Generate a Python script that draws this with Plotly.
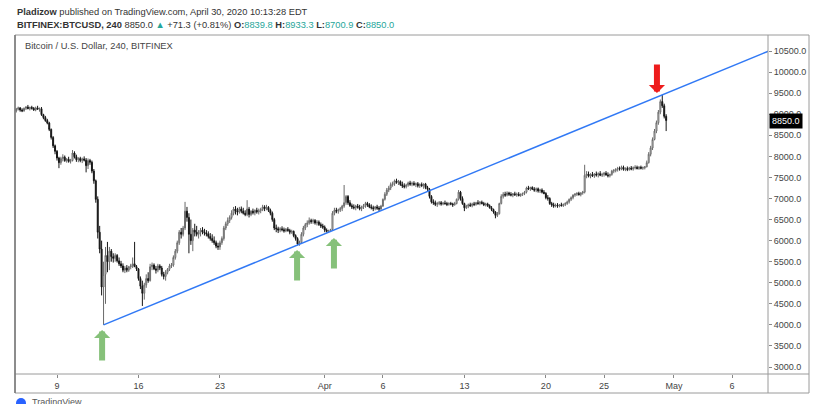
import pandas as pd
import plotly.graph_objects as go

# ---------------- data: 4-hour (240) candles ----------------
start_time = "2020-03-05 12:00"
bar_hours = 4

opens = [
    9080, 9120, 9150,                                  # Mar 5 (12h-20h)
    9100, 9080, 9140, 9170, 9130, 9160,                # Mar 6
    9140, 9100, 9150, 9120, 9130, 8990,                # Mar 7
    8920, 8850, 8790, 8640, 8450, 8250,                # Mar 8
    8120, 7960, 7850, 7950, 7980, 7900,                # Mar 9
    7930, 7880, 7900, 8080, 7990, 7920,                # Mar 10
    7950, 7900, 7940, 7910, 7780, 7900,                # Mar 11
    7860, 7650, 7420, 6980, 6200, 5800,                # Mar 12
    4900, 5200, 5650, 5500, 5750, 5620,                # Mar 13
    5580, 5650, 5520, 5450, 5400, 5300,                # Mar 14
    5350, 5300, 5380, 5400, 5450, 5380,                # Mar 15
    5330, 5100, 4920, 4750, 4950, 5100,                # Mar 16
    5050, 5380, 5420, 5330, 5300, 5400,                # Mar 17
    5350, 5200, 5150, 5250, 5320, 5400,                # Mar 18
    5420, 5600, 5750, 5950, 6200, 6150,                # Mar 19
    6300, 6700, 6550, 6150, 6000, 6250,                # Mar 20
    6200, 6150, 6200, 6250, 6200, 6180,                # Mar 21
    6160, 6100, 6050, 6000, 5950, 5870,                # Mar 22
    5850, 5950, 6050, 6300, 6400, 6480,                # Mar 23
    6550, 6650, 6750, 6700, 6680, 6750,                # Mar 24
    6700, 6650, 6620, 6750, 6620, 6700,                # Mar 25
    6660, 6720, 6680, 6710, 6740, 6800,                # Mar 26
    6760, 6790, 6720, 6650, 6500, 6300,                # Mar 27
    6280, 6250, 6280, 6260, 6230, 6270,                # Mar 28
    6240, 6200, 6220, 6120, 6050, 5920,                # Mar 29
    5960, 6150, 6300, 6380, 6420, 6480,                # Mar 30
    6450, 6480, 6420, 6440, 6380, 6350,                # Mar 31
    6320, 6250, 6220, 6230, 6260, 6650,                # Apr 1
    6720, 6700, 6730, 6760, 6820, 6900,                # Apr 2
    7050, 6900, 6830, 6800, 6780, 6820,                # Apr 3
    6790, 6760, 6800, 6830, 6880, 6850,                # Apr 4
    6800, 6780, 6760, 6800, 6770, 6750,                # Apr 5
    6820, 6980, 7100, 7200, 7250, 7330,                # Apr 6
    7350, 7420, 7380, 7400, 7330, 7300,                # Apr 7
    7280, 7320, 7370, 7340, 7360, 7330,                # Apr 8
    7350, 7300, 7330, 7310, 7340, 7260,                # Apr 9
    7220, 7050, 6920, 6900, 6860, 6880,                # Apr 10
    6900, 6870, 6890, 6880, 6860, 6880,                # Apr 11
    6870, 6850, 6880, 6980, 7150, 7000,                # Apr 12
    6880, 6780, 6820, 6850, 6830, 6870,                # Apr 13
    6860, 6900, 6880, 6910, 6880, 6850,                # Apr 14
    6870, 6830, 6780, 6740, 6680, 6600,                # Apr 15
    6640, 6880, 7050, 7100, 7080, 7130,                # Apr 16
    7100, 7080, 7110, 7090, 7100, 7070,                # Apr 17
    7100, 7120, 7150, 7250, 7230, 7260,                # Apr 18
    7220, 7200, 7230, 7180, 7200, 7150,                # Apr 19
    7120, 7020, 7000, 6880, 6850, 6820,                # Apr 20
    6840, 6820, 6850, 6830, 6860, 6880,                # Apr 21
    6920, 6980, 7020, 7080, 7100, 7120,                # Apr 22
    7090, 7130, 7150, 7550, 7580, 7530,                # Apr 23
    7570, 7540, 7580, 7560, 7590, 7550,                # Apr 24
    7570, 7600, 7560, 7540, 7570, 7650,                # Apr 25
    7660, 7690, 7710, 7700, 7740, 7690,                # Apr 26
    7710, 7690, 7720, 7700, 7730, 7740,                # Apr 27
    7710, 7740, 7720, 7730, 7750, 7850,                # Apr 28
    8050, 8200, 8400, 8600, 8800, 9050,                # Apr 29
    9300, 9200, 8950,                                  # Apr 30 (0h-8h)
]
highs = [
    9150, 9180, 9170,
    9140, 9160, 9190, 9220, 9180, 9200,
    9170, 9180, 9200, 9160, 9170, 9010,
    8960, 8890, 8820, 8660, 8480, 8280,
    8150, 7990, 7990, 8050, 8020, 7960,
    7990, 7940, 8150, 8120, 8040, 7980,
    7990, 7970, 8000, 7960, 7950, 7940,
    7900, 7700, 7450, 7050, 6350, 6000,
    5500, 5850, 5970, 5850, 5800, 5700,
    5700, 5680, 5600, 5520, 5460, 5400,
    5420, 5400, 5450, 5600, 5970, 5420,
    5350, 5150, 5050, 5000, 5200, 5250,
    5450, 5480, 5460, 5400, 5450, 5440,
    5400, 5260, 5300, 5350, 5450, 5470,
    5650, 5800, 6000, 6250, 6300, 6350,
    6920, 6800, 6650, 6500, 6300, 6400,
    6350, 6250, 6300, 6320, 6280, 6250,
    6220, 6180, 6150, 6100, 6000, 5950,
    6000, 6100, 6350, 6450, 6550, 6600,
    6720, 6800, 6820, 6780, 6800, 6810,
    6780, 6720, 6960, 6800, 6720, 6760,
    6740, 6780, 6760, 6780, 6850, 6840,
    6850, 6820, 6760, 6690, 6540, 6380,
    6330, 6320, 6340, 6310, 6300, 6320,
    6280, 6260, 6240, 6150, 6080, 6000,
    6200, 6350, 6420, 6480, 6550, 6520,
    6520, 6510, 6490, 6480, 6430, 6400,
    6360, 6290, 6260, 6280, 6700, 6780,
    6780, 6760, 6800, 6850, 7320, 7080,
    7080, 6960, 6880, 6860, 6850, 6870,
    6850, 6830, 6870, 6920, 6920, 6890,
    6860, 6830, 6820, 6850, 6820, 6850,
    7000, 7150, 7250, 7300, 7380, 7400,
    7450, 7470, 7440, 7430, 7400, 7360,
    7350, 7400, 7420, 7400, 7410, 7380,
    7390, 7360, 7380, 7360, 7370, 7300,
    7250, 7080, 6980, 6950, 6920, 6940,
    6940, 6920, 6950, 6920, 6910, 6920,
    6900, 6920, 7000, 7200, 7180, 7050,
    6900, 6850, 6880, 6900, 6900, 6920,
    6920, 6960, 6940, 6950, 6920, 6900,
    6900, 6860, 6820, 6760, 6700, 6680,
    6900, 7100, 7150, 7160, 7170, 7160,
    7150, 7130, 7160, 7140, 7150, 7120,
    7140, 7180, 7280, 7300, 7280, 7290,
    7270, 7260, 7260, 7230, 7240, 7200,
    7150, 7080, 7030, 6920, 6900, 6880,
    6890, 6870, 6900, 6880, 6910, 6950,
    7000, 7050, 7100, 7130, 7150, 7160,
    7150, 7180, 7800, 7650, 7640, 7600,
    7630, 7600, 7640, 7620, 7650, 7610,
    7630, 7650, 7620, 7590, 7680, 7700,
    7720, 7750, 7760, 7780, 7780, 7740,
    7760, 7750, 7770, 7760, 7790, 7780,
    7770, 7780, 7760, 7770, 7900, 8100,
    8250, 8450, 8650, 8850, 9100, 9350,
    9460, 9250, 9000,
]
lows = [
    9040, 9090, 9060,
    9050, 9060, 9100, 9120, 9090, 9110,
    9080, 9070, 9110, 9060, 8960, 8880,
    8820, 8760, 8600, 8400, 8200, 8050,
    7900, 7720, 7800, 7880, 7870, 7850,
    7850, 7830, 7880, 7950, 7870, 7860,
    7860, 7840, 7880, 7620, 7700, 7800,
    7600, 7350, 6900, 6050, 5700, 4700,
    4000, 4500, 5250, 5300, 5500, 5480,
    5500, 5480, 5400, 5350, 5250, 5230,
    5250, 5260, 5320, 5350, 5400, 5280,
    5050, 4850, 4450, 4600, 4880, 5000,
    5030, 5300, 5300, 5220, 5250, 5300,
    5150, 5080, 5050, 5200, 5280, 5350,
    5380, 5550, 5700, 5900, 6050, 6100,
    6250, 6450, 5700, 5900, 5750, 6100,
    6100, 6050, 6100, 6150, 6120, 6100,
    6050, 6000, 5950, 5900, 5820, 5780,
    5780, 5900, 6000, 6250, 6350, 6420,
    6500, 6600, 6620, 6600, 6640, 6650,
    6620, 6580, 6580, 6550, 6580, 6620,
    6600, 6640, 6620, 6650, 6700, 6700,
    6720, 6680, 6600, 6450, 6250, 6200,
    6180, 6200, 6220, 6190, 6200, 6210,
    6150, 6160, 6080, 6000, 5890, 5880,
    5940, 6100, 6250, 6320, 6380, 6400,
    6400, 6380, 6360, 6350, 6300, 6280,
    6200, 6190, 6200, 6210, 6240, 6600,
    6650, 6640, 6680, 6700, 6780, 6850,
    6850, 6800, 6750, 6740, 6720, 6760,
    6720, 6700, 6750, 6780, 6800, 6770,
    6740, 6700, 6720, 6730, 6700, 6730,
    6800, 6950, 7060, 7150, 7200, 7280,
    7300, 7350, 7320, 7300, 7250, 7240,
    7240, 7280, 7300, 7290, 7300, 7270,
    7260, 7250, 7270, 7230, 7220, 7180,
    7000, 6880, 6850, 6820, 6800, 6840,
    6830, 6840, 6850, 6820, 6830, 6840,
    6800, 6830, 6860, 6950, 6950, 6850,
    6700, 6750, 6770, 6800, 6790, 6820,
    6830, 6850, 6840, 6860, 6820, 6810,
    6800, 6760, 6700, 6640, 6530, 6560,
    6620, 6860, 7000, 7040, 7050, 7060,
    7050, 7030, 7060, 7040, 7050, 7040,
    7060, 7080, 7120, 7200, 7180, 7200,
    7160, 7150, 7140, 7130, 7120, 7100,
    6980, 6950, 6850, 6800, 6780, 6790,
    6780, 6790, 6810, 6800, 6820, 6850,
    6880, 6940, 6980, 7040, 7060, 7070,
    7050, 7090, 7120, 7480, 7500, 7480,
    7510, 7490, 7520, 7500, 7530, 7510,
    7520, 7540, 7500, 7500, 7540, 7600,
    7620, 7640, 7660, 7670, 7660, 7650,
    7650, 7660, 7670, 7660, 7690, 7690,
    7680, 7690, 7680, 7690, 7740, 7830,
    8000, 8150, 8380, 8550, 8750, 9000,
    9150, 8900, 8600,
]
closes = [
    9120, 9150, 9100,
    9080, 9140, 9170, 9130, 9160, 9140,
    9100, 9150, 9120, 9130, 8990, 8920,
    8850, 8790, 8640, 8450, 8250, 8120,
    7960, 7850, 7950, 7980, 7900, 7930,
    7880, 7900, 8080, 7990, 7920, 7950,
    7900, 7940, 7910, 7780, 7900, 7860,
    7650, 7420, 6980, 6200, 5800, 4900,
    5200, 5650, 5500, 5750, 5620, 5580,
    5650, 5520, 5450, 5400, 5300, 5350,
    5300, 5380, 5400, 5450, 5380, 5330,
    5100, 4920, 4750, 4950, 5100, 5050,
    5380, 5420, 5330, 5300, 5400, 5350,
    5200, 5150, 5250, 5320, 5400, 5420,
    5600, 5750, 5950, 6200, 6150, 6300,
    6700, 6550, 6150, 6000, 6250, 6200,
    6150, 6200, 6250, 6200, 6180, 6160,
    6100, 6050, 6000, 5950, 5870, 5850,
    5950, 6050, 6300, 6400, 6480, 6550,
    6650, 6750, 6700, 6680, 6750, 6700,
    6650, 6620, 6750, 6620, 6700, 6660,
    6720, 6680, 6710, 6740, 6800, 6760,
    6790, 6720, 6650, 6500, 6300, 6280,
    6250, 6280, 6260, 6230, 6270, 6240,
    6200, 6220, 6120, 6050, 5920, 5960,
    6150, 6300, 6380, 6420, 6480, 6450,
    6480, 6420, 6440, 6380, 6350, 6320,
    6250, 6220, 6230, 6260, 6650, 6720,
    6700, 6730, 6760, 6820, 6900, 7050,
    6900, 6830, 6800, 6780, 6820, 6790,
    6760, 6800, 6830, 6880, 6850, 6800,
    6780, 6760, 6800, 6770, 6750, 6820,
    6980, 7100, 7200, 7250, 7330, 7350,
    7420, 7380, 7400, 7330, 7300, 7280,
    7320, 7370, 7340, 7360, 7330, 7350,
    7300, 7330, 7310, 7340, 7260, 7220,
    7050, 6920, 6900, 6860, 6880, 6900,
    6870, 6890, 6880, 6860, 6880, 6870,
    6850, 6880, 6980, 7150, 7000, 6880,
    6780, 6820, 6850, 6830, 6870, 6860,
    6900, 6880, 6910, 6880, 6850, 6870,
    6830, 6780, 6740, 6680, 6600, 6640,
    6880, 7050, 7100, 7080, 7130, 7100,
    7080, 7110, 7090, 7100, 7070, 7100,
    7120, 7150, 7250, 7230, 7260, 7220,
    7200, 7230, 7180, 7200, 7150, 7120,
    7020, 7000, 6880, 6850, 6820, 6840,
    6820, 6850, 6830, 6860, 6880, 6920,
    6980, 7020, 7080, 7100, 7120, 7090,
    7130, 7150, 7550, 7580, 7530, 7570,
    7540, 7580, 7560, 7590, 7550, 7570,
    7600, 7560, 7540, 7570, 7650, 7660,
    7690, 7710, 7700, 7740, 7690, 7710,
    7690, 7720, 7700, 7730, 7740, 7710,
    7740, 7720, 7730, 7750, 7850, 8050,
    8200, 8400, 8600, 8800, 9050, 9300,
    9200, 8950, 8850,
]

# trend line drawn on the chart (anchored at the March low, running past the right edge)
trend_dates = ["2020-03-13 00:00", "2020-05-10 00:00"]
trend_prices = [4000, 10597]

# arrows drawn on the chart: (time, price at the arrow tip)
green_arrow_dates = ["2020-03-12 21:00", "2020-03-29 15:00", "2020-04-01 19:00"]
green_arrow_prices = [3880, 5778, 6062]
red_arrow_dates = ["2020-04-29 13:00"]
red_arrow_prices = [9503]

last_price = 8850.0

x_tick_dates = ["2020-03-09", "2020-03-16", "2020-03-23", "2020-04-01", "2020-04-06",
                "2020-04-13", "2020-04-20", "2020-04-25", "2020-05-01", "2020-05-06"]
x_tick_labels = ["9", "16", "23", "Apr", "6", "13", "20", "25", "May", "6"]
y_tick_values = [3000 + 500 * i for i in range(16)]
y_tick_labels = [f"{v:.1f}" for v in y_tick_values]

x_range = ["2020-03-05 09:24", "2020-05-09 02:00"]
y_range = [2835, 10880]

# ---------------- figure ----------------
times = pd.date_range(start_time, periods=len(closes), freq=f"{bar_hours}h")

W, H = 822, 404
L, R, T, B = 15, 768, 35, 374      # plot area in pixels
FR, FB = 809, 393                  # outer frame right / bottom
pw, ph = R - L, B - T


def px(x):
    return (x - L) / pw


def py(y):
    return (B - y) / ph


FONT = "Liberation Sans, Arial, sans-serif"
TEAL = "#26a69a"

fig = go.Figure()
fig.add_trace(go.Candlestick(
    x=times, open=opens, high=highs, low=lows, close=closes,
    increasing=dict(line=dict(color="#6a6a6a", width=1), fillcolor="#ffffff"),
    decreasing=dict(line=dict(color="#151515", width=1), fillcolor="#151515"),
    whiskerwidth=0, hoverinfo="skip", showlegend=False,
))
fig.add_trace(go.Scatter(
    x=trend_dates, y=trend_prices, mode="lines",
    line=dict(color="#3179f5", width=1.5), hoverinfo="skip", showlegend=False,
))

annotations = []
for d, p in zip(green_arrow_dates, green_arrow_prices):
    annotations.append(dict(x=d, y=p, xref="x", yref="y", text="", showarrow=True,
                            ax=0, ay=32, arrowhead=1, arrowsize=0.45, arrowwidth=6,
                            arrowcolor="#86c17a", standoff=0))
for d, p in zip(red_arrow_dates, red_arrow_prices):
    annotations.append(dict(x=d, y=p, xref="x", yref="y", text="", showarrow=True,
                            ax=0, ay=-30, arrowhead=1, arrowsize=0.45, arrowwidth=6,
                            arrowcolor="#ee1c1c", standoff=0))

# last price label on the price scale
annotations.append(dict(x=1.0, xref="paper", y=last_price, yref="y", xanchor="left",
                        yanchor="middle", xshift=1, text=f"{last_price:.1f}", showarrow=False,
                        bgcolor="#000000", borderpad=2,
                        font=dict(family=FONT, size=9, color="#ffffff")))

# header texts
annotations.append(dict(x=px(15), y=py(12), xref="paper", yref="paper", xanchor="left",
                        yanchor="middle", showarrow=False,
                        text="<b>Pladizow</b> published on TradingView.com, April 30, 2020 10:13:28 EDT",
                        font=dict(family=FONT, size=9.3, color="#333333")))
annotations.append(dict(x=px(15), y=py(25), xref="paper", yref="paper", xanchor="left",
                        yanchor="middle", showarrow=False,
                        text=("<b>BITFINEX:BTCUSD, 240</b> 8850.0 "
                              f"<span style='color:{TEAL}'>▲</span> +71.3 (+0.81%) "
                              f"<b>O:</b><span style='color:{TEAL}'>8839.8</span> "
                              f"<b>H:</b><span style='color:{TEAL}'>8933.3</span> "
                              f"<b>L:</b><span style='color:{TEAL}'>8700.9</span> "
                              f"<b>C:</b><span style='color:{TEAL}'>8850.0</span>"),
                        font=dict(family=FONT, size=9.3, color="#333333")))
annotations.append(dict(x=px(23), y=py(46), xref="paper", yref="paper", xanchor="left",
                        yanchor="middle", showarrow=False,
                        text="Bitcoin / U.S. Dollar, 240, BITFINEX",
                        font=dict(family=FONT, size=9.3, color="#444444")))
annotations.append(dict(x=px(30), y=py(402), xref="paper", yref="paper", xanchor="left",
                        yanchor="middle", showarrow=False, text="TradingView",
                        font=dict(family=FONT, size=9, color="#555555")))

frame_col = "#9a9a9a"
shapes = [
    dict(type="rect", xref="paper", yref="paper", x0=0, y0=py(FB), x1=px(FR), y1=1,
         line=dict(color=frame_col, width=1)),
    dict(type="line", xref="paper", yref="paper", x0=1, y0=py(FB), x1=1, y1=1,
         line=dict(color=frame_col, width=1)),
    dict(type="line", xref="paper", yref="paper", x0=0, y0=0, x1=px(FR), y1=0,
         line=dict(color=frame_col, width=1)),
    dict(type="line", xref="paper", yref="paper", x0=0, y0=py(FB), x1=0, y1=1,
         line=dict(color="#777777", width=1.5)),
    dict(type="circle", xref="paper", yref="paper", x0=px(16), x1=px(26), y0=py(408), y1=py(398),
         line=dict(width=0), fillcolor="#2962ff"),
]

fig.update_layout(
    width=W, height=H,
    margin=dict(l=L, r=W - R, t=T, b=H - B, pad=0),
    paper_bgcolor="white", plot_bgcolor="white",
    font=dict(family=FONT, size=9, color="#444444"),
    showlegend=False,
    annotations=annotations, shapes=shapes,
    xaxis=dict(type="date", range=x_range, rangeslider=dict(visible=False),
               tickmode="array", tickvals=x_tick_dates, ticktext=x_tick_labels,
               showgrid=False, zeroline=False, showline=False,
               ticks="outside", ticklen=3, tickcolor="#888888",
               tickfont=dict(family=FONT, size=9, color="#444444")),
    yaxis=dict(side="right", range=y_range, tickmode="array",
               tickvals=y_tick_values, ticktext=y_tick_labels,
               showgrid=False, zeroline=False, showline=False,
               ticks="outside", ticklen=3, tickcolor="#888888",
               tickfont=dict(family=FONT, size=9, color="#444444")),
)

# remove the browser's default page margin so the figure sits at the window's top-left corner
fig.write_html(
    "out.html",
    config={"displayModeBar": False, "staticPlot": True},
    post_script="document.body.style.margin='0';document.body.style.overflow='hidden';",
)
